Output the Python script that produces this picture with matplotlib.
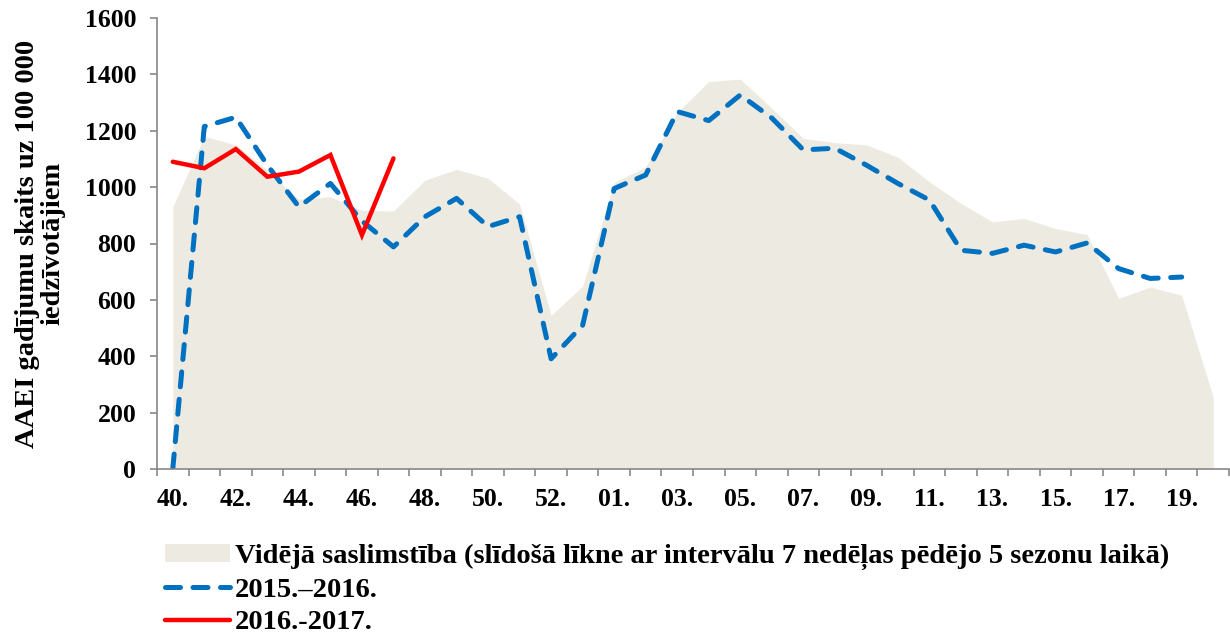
import numpy as np
import matplotlib.pyplot as plt

# weeks of the season (2015/16 had week 53)
weeks = ["40", "41", "42", "43", "44", "45", "46", "47", "48", "49", "50", "51", "52", "53",
         "01", "02", "03", "04", "05", "06", "07", "08", "09", "10", "11", "12", "13", "14",
         "15", "16", "17", "18", "19", "20"]

avg_5_seasons = [930, 1180, 1150, 1060, 957, 966, 918, 915, 1025, 1063, 1031, 940, 545,
                 649, 1016, 1072, 1265, 1375, 1383, 1280, 1173, 1158, 1150, 1106, 1019,
                 942, 877, 889, 853, 832, 605, 646, 616, 255]

season_2015_16 = [0, 1215, 1248, 1078, 930, 1013, 880, 788, 895, 960, 860, 895, 391,
                  510, 995, 1043, 1268, 1236, 1327, 1245, 1132, 1138, 1078, 1013, 954,
                  776, 765, 794, 770, 802, 711, 676, 681]

season_2016_17 = [1090, 1067, 1135, 1037, 1055, 1114, 830, 1102]

plt.rcParams['font.family'] = ['Liberation Serif', 'DejaVu Serif']
plt.rcParams['font.weight'] = 'bold'

fig = plt.figure(figsize=(12.3, 6.34), dpi=100)
ax = fig.add_axes([157 / 1230, 1 - 469 / 634, (1229 - 157) / 1230, 451 / 634])

x = np.arange(len(weeks))
ax.fill_between(x, avg_5_seasons, color='#EDEBE1', linewidth=0,
                label='Vidējā saslimstība (slīdošā līkne ar intervālu 7 nedēļas pēdējo 5 sezonu laikā)')
ax.plot(np.arange(len(season_2015_16)), season_2015_16, color='#0070C0', lw=3.6,
        dashes=(3, 2.5), dash_capstyle='round', label='2015.–2016.')
ax.plot(np.arange(len(season_2016_17)), season_2016_17, color='#FF0000', lw=3.2,
        solid_capstyle='round', solid_joinstyle='miter', label='2016.-2017.')

ax.set_xlim(-0.5, len(weeks) - 0.5)
ax.set_ylim(0, 1600)
ax.set_yticks(np.arange(0, 1601, 200))
ax.tick_params(axis='y', labelsize=18.5, length=5, color='#888888', width=1.2, pad=10)

# labels every other week at category centres, tick marks at category edges
ax.set_xticks(x[::2])
ax.set_xticklabels([w + "." for w in weeks[::2]])
ax.set_xticks(np.arange(-0.5, len(weeks)), minor=True)
ax.tick_params(axis='x', which='major', length=0, labelsize=18.5, pad=14)
ax.tick_params(axis='x', which='minor', length=5, color='#888888', width=1.2)

for s in ['top', 'right']:
    ax.spines[s].set_visible(False)
for s in ['left', 'bottom']:
    ax.spines[s].set_color('#888888')
    ax.spines[s].set_linewidth(1.2)

ax.set_ylabel('AAEI gadījumu skaits uz 100 000\niedzīvotājiem', fontsize=20.5,
              fontweight='bold', labelpad=14, linespacing=1.0)

fig.legend(loc='upper left', bbox_to_anchor=(165 / 1230, 1 - 544 / 634), frameon=False,
           fontsize=20.5, handlelength=2.3, handleheight=0.6, handletextpad=0.15,
           labelspacing=0.26, borderpad=0, borderaxespad=0)

fig.savefig('out.png', dpi=100)
